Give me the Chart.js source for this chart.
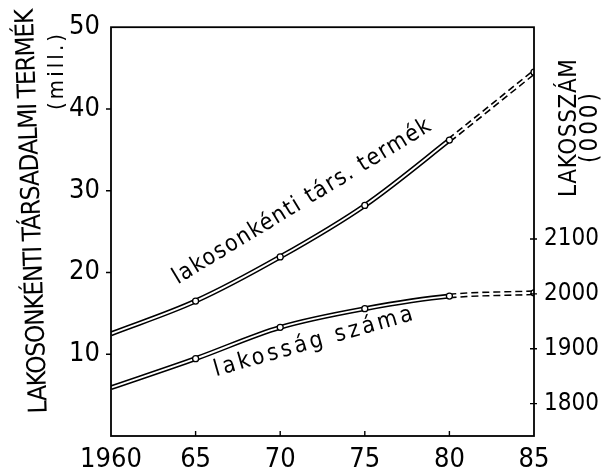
<!DOCTYPE html>
<html>
<head>
<meta charset="utf-8">
<script src="https://cdn.jsdelivr.net/npm/chart.js@4.4.1/dist/chart.umd.min.js"></script>
<style>
  html, body { margin: 0; padding: 0; background: #fff; }
  #wrap { width: 606px; height: 473px; }
</style>
</head>
<body>
<div id="wrap"><canvas id="chart" width="606" height="473"></canvas></div>
<script>
// data
const years = [1960, 1965, 1970, 1975, 1980, 1985];
const yearLabels = ['1960', '65', '70', '75', '80', '85'];
const termek = [12.5, 16.5, 21.9, 28.2, 36.2, 44.5];      // mill. / fo
const lakossag = [1829, 1882, 1939, 1973, 1996, 2002];    // ezer fo
const leftTicks = [10, 20, 30, 40, 50];
const rightTicks = [1800, 1900, 2000, 2100];
const forecastFrom = 1980;

const NARROW = "'Liberation Sans Narrow', 'DejaVu Sans Condensed', 'DejaVu Sans', sans-serif";
const INK = '#000';

function points(vals) {
    return years.map((y, i) => ({ x: y, y: vals[i] }));
}

const dashed = c => c.p0.parsed.x >= forecastFrom ? [7, 4] : undefined;

// each curve = thick black line + thin white line on top -> double line
function doubleLine(vals, axis) {
    return [{
        data: points(vals),
        yAxisID: axis,
        borderColor: INK,
        borderWidth: 5,
        pointRadius: 0,
        cubicInterpolationMode: 'monotone',
        segment: { borderDash: dashed },
        order: 2
    }, {
        data: points(vals),
        yAxisID: axis,
        borderColor: '#fff',
        borderWidth: 1.9,
        pointRadius: [0, 3, 3, 3, 3, 3],
        pointBackgroundColor: '#fff',
        pointBorderColor: INK,
        pointBorderWidth: 1.3,
        cubicInterpolationMode: 'monotone',
        order: 1
    }];
}

// frame + small tick marks
const frame = {
    id: 'frame',
    afterDatasetsDraw(chart) {
        const { ctx, chartArea: a, scales } = chart;
        ctx.save();
        ctx.strokeStyle = INK;
        ctx.lineWidth = 1.8;
        ctx.strokeRect(a.left, a.top, a.right - a.left, a.bottom - a.top);
        ctx.lineWidth = 1.4;
        ctx.beginPath();
        leftTicks.slice(0, -1).forEach(v => {
            const y = scales.y.getPixelForValue(v);
            ctx.moveTo(a.left - 5, y); ctx.lineTo(a.left, y);
        });
        rightTicks.forEach(v => {
            const y = scales.y2.getPixelForValue(v);
            ctx.moveTo(a.right - 4, y); ctx.lineTo(a.right + 3, y);
        });
        years.slice(1, -1).forEach(v => {
            const x = scales.x.getPixelForValue(v);
            ctx.moveTo(x, a.bottom); ctx.lineTo(x, a.bottom - 5);
        });
        ctx.stroke();
        ctx.restore();
    }
};

function spreadText(ctx, text, cx, cy, angle, width) {
    ctx.save();
    ctx.translate(cx, cy);
    ctx.rotate(angle * Math.PI / 180);
    ctx.textAlign = 'left';
    const w = ctx.measureText(text).width;
    const sp = (width - w) / (text.length - 1);
    ctx.letterSpacing = sp + 'px';
    ctx.fillText(text, -width / 2, 0);
    ctx.restore();
}

const labels = {
    id: 'labels',
    afterDraw(chart) {
        const ctx = chart.ctx;
        ctx.save();
        ctx.fillStyle = INK;
        ctx.textBaseline = 'middle';
        ctx.font = '26px ' + NARROW;
        spreadText(ctx, 'LAKOSONKÉNTI TÁRSADALMI TERMÉK', 33, 211, -92, 405);
        ctx.font = '22px ' + NARROW;
        spreadText(ctx, '(mill.)', 57, 72, -90, 76);
        ctx.font = '24px ' + NARROW;
        spreadText(ctx, 'LAKOSSZÁM', 570, 128, -90, 138);
        spreadText(ctx, '(000)', 591, 128, -90, 70);

        ctx.textBaseline = 'alphabetic';
        ctx.font = '23px ' + NARROW;
        spreadText(ctx, 'lakosonkénti társ. termék', 305, 207, -31.3, 298);
        spreadText(ctx, 'lakosság száma', 315, 348, -15.9, 206);
        ctx.restore();
    }
};

new Chart(document.getElementById('chart'), {
    type: 'line',
    data: {
        datasets: [
            ...doubleLine(termek, 'y'),
            ...doubleLine(lakossag, 'y2')
        ]
    },
    options: {
        responsive: false,
        animation: false,
        devicePixelRatio: 1,
        layout: { padding: { top: 19, left: 0, right: 0, bottom: 0 } },
        plugins: { legend: { display: false }, tooltip: { enabled: false } },
        scales: {
            x: {
                type: 'linear',
                min: 1960,
                max: 1985,
                afterBuildTicks: s => { s.ticks = years.map(v => ({ value: v })); },
                afterFit: s => { s.height = 37; },
                grid: { display: false, drawTicks: false },
                border: { display: false },
                ticks: {
                    padding: 8,
                    color: INK,
                    font: { family: NARROW, size: 27 },
                    maxRotation: 0,
                    callback: (v, i) => yearLabels[i]
                }
            },
            y: {
                position: 'left',
                min: 0,
                max: 50,
                afterBuildTicks: s => { s.ticks = leftTicks.map(v => ({ value: v })); },
                afterFit: s => { s.width = 111; },
                grid: { display: false, drawTicks: false },
                border: { display: false },
                ticks: { padding: 11, color: INK, font: { family: NARROW, size: 27 }, callback: v => String(v) }
            },
            y2: {
                position: 'right',
                min: 1741,
                max: 2486,
                afterBuildTicks: s => { s.ticks = rightTicks.map(v => ({ value: v })); },
                afterFit: s => { s.width = 72; },
                grid: { display: false, drawTicks: false },
                border: { display: false },
                ticks: { padding: 10, color: INK, font: { family: NARROW, size: 24 }, callback: v => String(v) }
            }
        }
    },
    plugins: [frame, labels]
});
</script>
</body>
</html>
